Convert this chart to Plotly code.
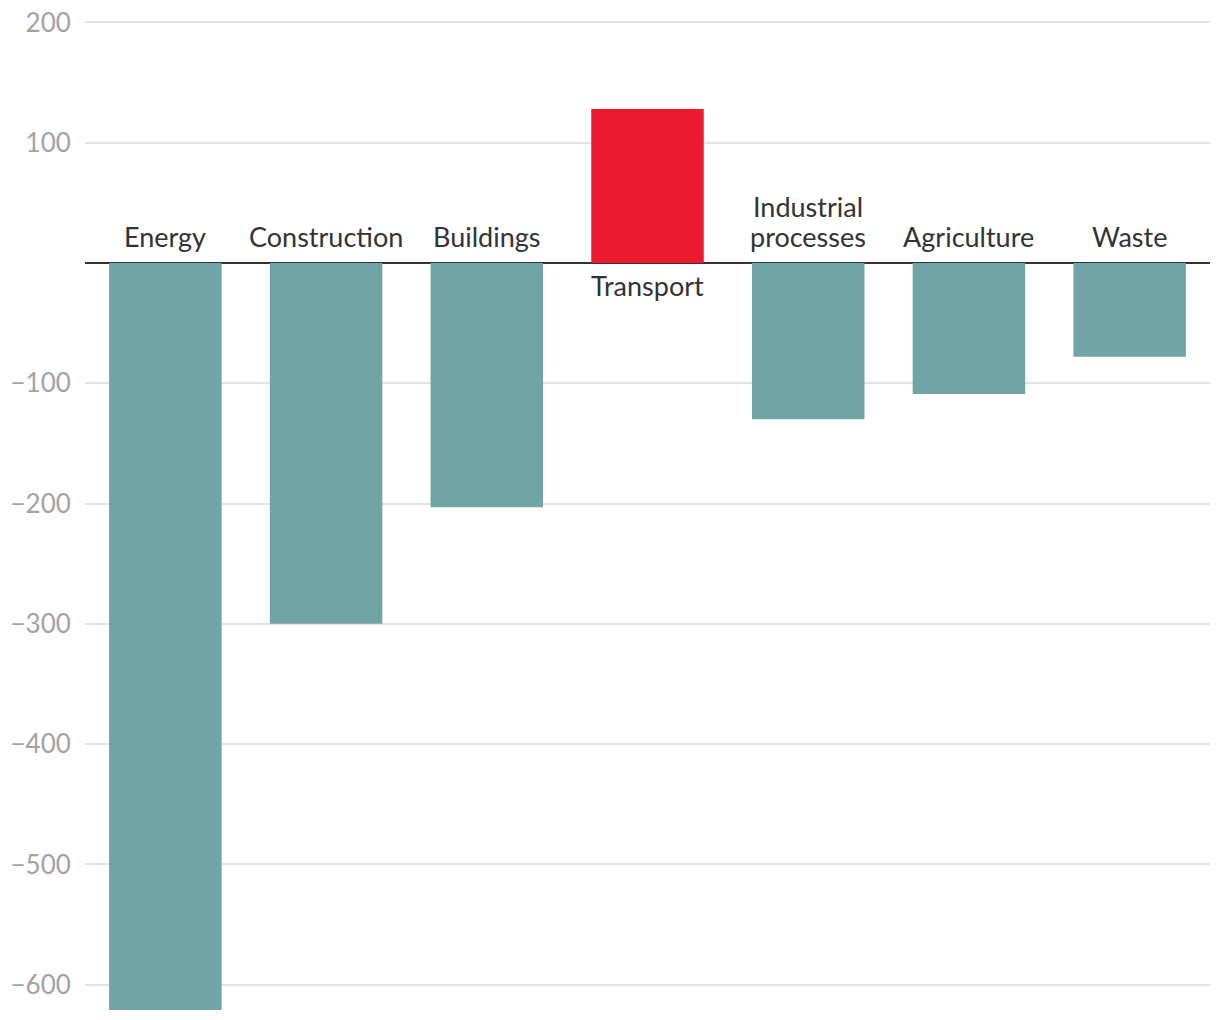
import plotly.graph_objects as go

categories = ["Energy", "Construction", "Buildings", "Transport",
              "Industrial processes", "Agriculture", "Waste"]
label_lines = [["Energy"], ["Construction"], ["Buildings"], ["Transport"],
               ["Industrial", "processes"], ["Agriculture"], ["Waste"]]
values = [-621, -300, -203, 128, -130, -109, -78]
tick_vals = [200, 100, -100, -200, -300, -400, -500, -600]

colors = ["#ed1a2f" if v > 0 else "#71a4a7" for v in values]

fig = go.Figure(go.Bar(x=categories, y=values, marker_color=colors,
                       marker_line_width=0, hoverinfo="skip"))

line_gap = 30
for cat, lines, v in zip(categories, label_lines, values):
    n = len(lines)
    for i, line in enumerate(lines):
        if v > 0:
            shift = -4 - i * line_gap
            anchor = "top"
        else:
            shift = 8 + (n - 1 - i) * line_gap
            anchor = "bottom"
        fig.add_annotation(x=cat, y=0, text=line, showarrow=False,
                           yanchor=anchor, yshift=shift,
                           font=dict(family="Lato", size=27, color="#333333"))

fig.update_layout(
    width=1220, height=1020,
    margin=dict(l=85, r=10, t=20, b=10),
    plot_bgcolor="white", paper_bgcolor="white",
    bargap=0.3, showlegend=False,
    xaxis=dict(showticklabels=False, showgrid=False, zeroline=False,
               showline=False, ticks="", automargin=False),
    yaxis=dict(range=[-621, 202], tickvals=tick_vals, showgrid=True,
               gridcolor="#e3e3e3", gridwidth=1.5,
               zeroline=True, zerolinecolor="#333333", zerolinewidth=2,
               ticks="outside", ticklen=8, tickcolor="rgba(0,0,0,0)",
               tickfont=dict(family="Lato", size=26, color="#a3a3a3"),
               showline=False, automargin=False),
)

fig.write_html("out.html")
